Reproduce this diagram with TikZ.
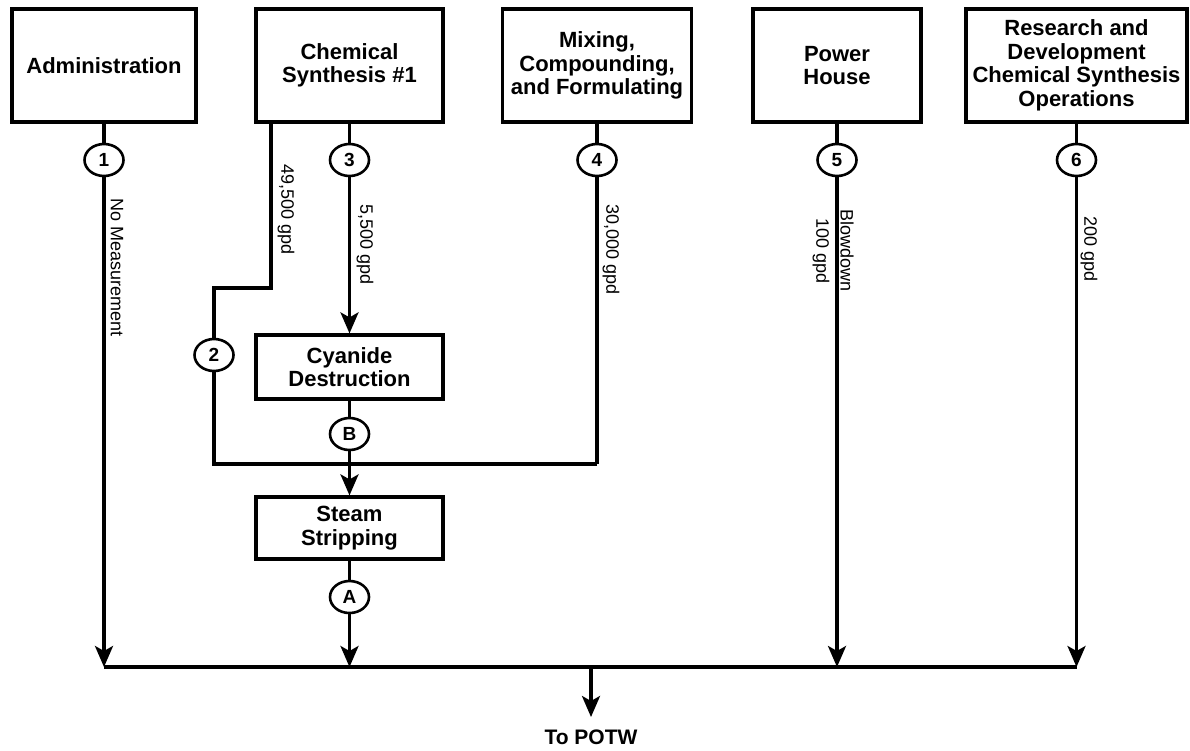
\documentclass[tikz,border=0pt]{standalone}
\usepackage{fontspec}
\setmainfont{Liberation Sans}
\usetikzlibrary{arrows.meta,positioning,calc,shapes.geometric}

\begin{document}
\begin{tikzpicture}[x=1pt,y=-1pt,>={Stealth[length=21pt,width=18pt,inset=5pt]},line width=3.2pt,
  unit/.style={draw,rectangle,align=center,inner sep=0pt,minimum height=113pt,font=\fontsize{22}{23.5}\selectfont\bfseries},
  tap/.style={draw,ellipse,minimum width=39pt,minimum height=32pt,inner sep=0pt,line width=2.6pt,font=\fontsize{19}{19}\selectfont\bfseries},
  flow/.style={rotate=-90,anchor=west,inner sep=0pt,font=\fontsize{18}{18}\selectfont}]
\useasboundingbox (0,0) rectangle (1190,750);

% source areas
\node[unit,minimum width=184pt] (admin) at (104,65.5) {Administration};
\node[unit,minimum width=187pt] (chem) at (349.5,65.5) {Chemical\\Synthesis \#1};
\node[unit,minimum width=189pt] (mix) at (597,65.5) {Mixing,\\Compounding,\\and Formulating};
\node[unit,minimum width=168pt] (power) at (837,65.5) {Power\\House};
\node[unit,minimum width=221pt] (rd) at (1076.5,65.5) {Research and\\Development\\Chemical Synthesis\\Operations};

% treatment
\node[unit,minimum width=187pt,minimum height=64pt] (cyan) at (349.5,367) {Cyanide\\Destruction};
\node[unit,minimum width=187pt,minimum height=62pt] (steam) at (349.5,528) {Steam\\Stripping};

% sample points
\node[tap] (c1) at (104,160) {1};
\node[tap] (c2) at (214,355) {2};
\node[tap] (c3) at (349.5,160) {3};
\node[tap] (c4) at (597,160) {4};
\node[tap] (c5) at (837,160) {5};
\node[tap] (c6) at (1076.5,160) {6};
\node[tap] (cB) at (349.5,434) {B};
\node[tap] (cA) at (349.5,597) {A};

\coordinate (bend) at (271,288);
\coordinate (join) at (597,464);
\coordinate (busL) at (104,667);
\coordinate (busR) at (1076.5,667);
\coordinate (out) at (591,667);
\node[anchor=north,inner xsep=0pt,inner ysep=11pt,font=\fontsize{21}{21}\selectfont\bfseries] (potw) at (591,717) {To POTW};

% flows
\draw (admin) -- (c1);
\draw[->] (c1) -- (c1 |- busL);
\draw (bend |- chem.south) -- (bend) -| (c2);
\draw (c2) |- (join);
\draw (chem) -- (c3);
\draw[->] (c3) -- (cyan);
\draw (cyan) -- (cB);
\draw[->] (cB) -- (steam);
\draw (steam) -- (cA);
\draw[->] (cA) -- (cA |- busL);
\draw (mix) -- (c4);
\draw (c4) -- (join);
\draw (power) -- (c5);
\draw[->] (c5) -- (c5 |- busL);
\draw (rd) -- (c6);
\draw[->] (c6) -- (busR);
\draw (busL) -- (busR);
\draw[->] (out) -- (potw);

% flow rates
\node[flow] (fr1) at (117,197) {No Measurement};
\node[flow] (fr2) at (286,163) {49,500 gpd};
\node[flow] (fr3) at (365,203) {5,500 gpd};
\node[flow] (fr4) at (611,203) {30,000 gpd};
\node[flow] (fr5) at (847,208) {Blowdown};
\node[flow] (fr5b) at (821,217) {100 gpd};
\node[flow] (fr6) at (1089,215) {200 gpd};
\end{tikzpicture}
\end{document}
